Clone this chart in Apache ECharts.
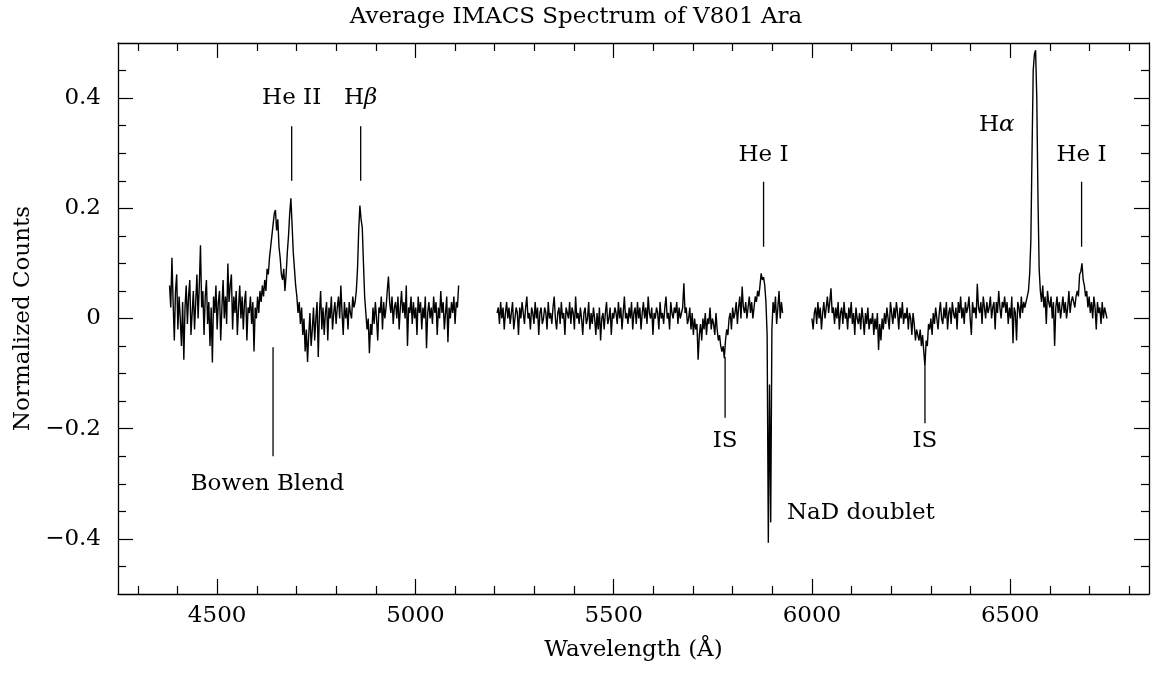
<!DOCTYPE html>
<html><head><meta charset="utf-8">
<script src="https://cdn.jsdelivr.net/npm/echarts@6/dist/echarts.min.js"></script>
<style>html,body{margin:0;padding:0;background:#fff}#c{width:1152px;height:678px}</style>
</head><body><div id="c"></div>
<script>
// Spectrum segments: start wavelength (Å), sampling step (Å), normalized counts
const seg1Start = 4380, seg1Step = 3;
const seg1Values = [
.06,.02,.11,.03,-.04,.05,.08,-.02,.04,.00,
-.05,.03,-.075,.02,.06,-.01,.04,.07,-.03,.01,
.05,-.02,.03,.08,.00,.06,.133,.02,.05,-.03,
.04,.07,-.01,.03,-.05,.02,-.08,.04,.01,.06,
-.02,.03,.05,-.04,.02,.07,.00,.04,-.01,.10,
.03,.06,.08,-.02,.04,.01,.05,-.03,.02,.06,
.00,.04,-.02,.03,.05,-.04,.02,.01,.04,-.01,
.03,-.06,.02,.00,.04,.01,.05,.03,.06,.04,
.07,.05,.09,.08,.11,.13,.15,.17,.19,.197,
.16,.18,.13,.11,.08,.07,.09,.05,.08,.12,
.15,.19,.218,.17,.12,.09,.06,.04,.01,.03,
-.01,.02,-.03,.00,-.06,-.02,-.079,-.03,.01,-.05,
-.02,.02,-.04,.00,.03,-.07,.01,.05,-.02,.02,
-.03,.01,.03,-.04,.02,.00,.04,-.02,.01,.03,
-.01,.02,.04,.00,.06,.01,-.03,.03,.00,.02,
-.02,.03,.01,.00,.04,.02,.03,.05,.09,.16,
.205,.18,.165,.10,.04,.01,-.02,.00,-.063,-.01,
-.03,.02,-.01,.03,.00,-.04,.02,.01,.04,-.02,
.03,.00,.02,.05,.076,.03,.01,.04,-.01,.02,
.03,.00,.04,-.02,.02,.05,.01,.03,.00,.06,
-.05,.02,.01,.04,-.01,.03,.00,.02,-.03,.04,
.01,.03,-.02,.02,.00,.04,-.054,.01,.03,.00,
.02,-.01,.04,.01,.03,-.03,.02,.00,.05,.01,
.03,-.02,.01,.04,-.043,.02,.00,.03,.01,.04,
-.01,.03,.02,.06
];
const seg2Start = 5206, seg2Step = 3;
const seg2Values = [
.01,.02,-.01,.03,.00,.02,-.02,.01,.03,.00,
.02,-.01,.01,.03,-.02,.00,.02,.01,-.03,.02,
.00,.03,.01,-.01,.02,.04,.00,.01,-.02,.02,
.01,-.01,.03,.00,.02,-.03,.01,.02,-.01,.00,
.02,.01,-.02,.03,.00,.01,-.01,.02,.04,.00,
-.02,.01,.02,-.01,.03,.00,.01,-.03,.02,.01,
.00,.03,-.01,.02,.01,-.02,.04,.00,.01,-.01,
.02,.00,-.03,.01,.02,-.01,.00,.03,-.02,.01,
-.01,.02,.00,-.03,.01,-.02,.02,-.04,.00,.01,
-.02,.01,.03,-.01,.00,.02,-.03,.01,.00,.02,
.01,-.01,.03,.00,.02,-.02,.01,.04,.00,.01,
-.01,.02,.00,.03,-.02,.01,.02,-.01,.03,.00,
.02,-.02,.01,.03,.00,.02,-.01,.04,.01,.00,
.02,-.03,.01,.00,.02,.01,-.02,.03,.00,.01,
-.01,.02,.04,.00,.01,-.02,.03,.01,.00,.02,
.01,.03,-.01,.02,.00,.01,.02,.064,.01,.02,
-.01,.00,.02,-.02,.01,-.03,.00,-.02,-.01,-.075,
-.03,-.01,-.04,.00,-.02,.01,-.03,.00,-.01,.02,
-.02,.00,-.01,-.03,.01,-.02,-.04,-.03,-.05,-.06,
-.05,-.072,-.04,-.02,-.03,.00,.01,-.02,.02,.00,
.01,.03,-.01,.02,.04,.00,.058,.02,.01,.03,
.00,.02,.04,.01,.03,.00,.02,.04,.03,.05,
.04,.06,.082,.07,.075,.06,.03,-.03,-.407,-.12,
-.37,-.02,.03,.01,.04,-.01,.02,.05,.00,.03,.01
];
const seg3Start = 6000, seg3Step = 3;
const seg3Values = [
.00,-.02,.01,.02,-.01,.03,.00,.02,-.02,.01,
.03,.00,.02,.04,.01,.03,.055,.01,.02,-.01,
.02,.00,.03,-.02,.01,.02,-.01,.03,.00,.01,
-.02,.02,.00,.03,-.01,.01,-.03,.02,.00,-.01,
.01,-.02,.02,.00,-.03,.01,-.01,.02,-.02,.00,
-.01,.01,-.03,.00,-.02,.01,-.057,-.01,-.04,.00,
-.02,.01,-.01,.02,.00,-.02,.03,.01,-.01,.02,
.00,.03,.01,-.02,.02,.00,.03,-.01,.01,.00,
.02,-.02,.01,.00,-.03,.01,-.01,-.04,-.02,-.03,
-.04,-.02,-.05,-.03,-.06,-.087,-.04,-.05,-.01,-.02,
.00,-.03,.01,-.01,.02,.00,-.02,.01,.03,.00,
-.01,.02,.00,.03,-.02,.01,.02,-.01,.03,.01,
.00,.02,-.02,.03,.01,.04,.00,.02,-.01,.03,
.01,.02,.04,.00,-.03,.03,.01,.02,.00,.063,
.02,.01,.03,-.01,.04,.02,.00,.03,.01,.02,
.04,.00,.02,.03,-.02,.03,.01,.05,.02,.00,
.03,.02,.04,.01,.03,-.01,.02,.00,.04,-.045,
.02,.01,-.04,.03,.02,.00,.04,.01,.03,.02,
.03,.04,.05,.08,.14,.30,.45,.48,.487,.40,
.22,.09,.05,.03,.06,.02,.04,-.01,.05,.03,
.02,.04,.00,.03,-.05,.02,.04,.01,.03,.00,
.02,.04,.01,.03,.00,.02,.05,.01,.03,.04,
.03,.02,.04,.05,.04,.08,.085,.10,.07,.06,
.04,.05,.02,.04,.01,.03,.00,.04,.02,-.02,
.03,.01,.02,-.01,.03,.00,.02,.01,.00
];
// Axis ticks
const xMajorTicks = [4500, 5000, 5500, 6000, 6500];
const xMinorTicks = [4300,4400,4600,4700,4800,4900,5100,5200,5300,5400,5600,5700,5800,5900,6100,6200,6300,6400,6600,6700,6800];
const yMajorTicks = [-0.4, -0.2, 0, 0.2, 0.4];
const yMinorTicks = [-0.45,-0.35,-0.3,-0.25,-0.15,-0.1,-0.05,0.05,0.1,0.15,0.25,0.3,0.35,0.45];
// Line identification markers: wavelength, from, to (data units)
const markWaves = [4641, 4688, 4862, 5878, 5781, 6285, 6680];
const markFrom  = [-0.052, 0.25, 0.25, 0.13, -0.07, -0.087, 0.13];
const markTo    = [-0.25, 0.349, 0.349, 0.248, -0.18, -0.19, 0.248];
// Labels: text, wavelength, value
const labelTexts = ['Bowen Blend', 'He II', 'H{g|β}', 'He I', 'IS', 'IS', 'H{g|α}', 'He I'];
const labelWaves = [4627, 4688, 4862, 5878, 5781, 6285, 6466, 6680];
const labelVals  = [-0.30, 0.40, 0.40, 0.296, -0.223, -0.223, 0.351, 0.296];
const nadText = 'NaD doublet', nadWave = 5937, nadVal = -0.353;

const FONT = 'DejaVu Serif';
const FS = 23;
const build = (s, st, vals) => vals.map((v, i) => [s + st * i, v]);
const chart = echarts.init(document.getElementById('c'), null, {renderer: 'canvas'});
const gridRect = {left: 118, right: 3, top: 43, bottom: 84};
const fmtY = v => v === 0 ? '0' : (v < 0 ? '\u2212' + (+(-v).toFixed(1)) : String(+v.toFixed(1)));
const fmtX = v => String(Math.round(v));
const tickStyle = {color: '#000', width: 1.2};
function xAx(grid, pos, ticks, len, labels) {
  return {type: 'value', gridIndex: grid, position: pos, min: 4250, max: 6850,
    axisLine: {show: grid === 0, onZero: false, lineStyle: {color: '#000', width: 1.3}},
    splitLine: {show: false},
    axisTick: {show: true, inside: true, length: len, customValues: ticks, lineStyle: tickStyle},
    axisLabel: labels ? {show: true, customValues: ticks, color: '#000', fontFamily: FONT, fontSize: FS, margin: 11, formatter: fmtX} : {show: false},
    name: labels ? 'Wavelength (Å)' : '', nameLocation: 'middle', nameGap: 45,
    nameTextStyle: {color: '#000', fontFamily: FONT, fontSize: FS}};
}
function yAx(grid, pos, ticks, len, labels) {
  return {type: 'value', gridIndex: grid, position: pos, min: -0.5, max: 0.5,
    axisLine: {show: grid === 0, onZero: false, lineStyle: {color: '#000', width: 1.3}},
    splitLine: {show: false},
    axisTick: {show: true, inside: true, length: len, customValues: ticks, lineStyle: tickStyle},
    axisLabel: labels ? {show: true, customValues: ticks, color: '#000', fontFamily: FONT, fontSize: FS, margin: 17, formatter: fmtY} : {show: false},
    name: labels ? 'Normalized Counts' : '', nameLocation: 'middle', nameGap: 82, nameRotate: 90,
    nameTextStyle: {color: '#000', fontFamily: FONT, fontSize: FS}};
}
const specStyle = {type: 'line', xAxisIndex: 0, yAxisIndex: 0, showSymbol: false, symbol: 'none',
  lineStyle: {color: '#000', width: 1.4}, animation: false, silent: true};
const series = [
  Object.assign({data: build(seg1Start, seg1Step, seg1Values)}, specStyle),
  Object.assign({data: build(seg2Start, seg2Step, seg2Values)}, specStyle),
  Object.assign({data: build(seg3Start, seg3Step, seg3Values)}, specStyle)
];
markWaves.forEach((w, i) => series.push(Object.assign({}, specStyle, {
  data: [[w, markFrom[i]], [w, markTo[i]]], lineStyle: {color: '#000', width: 1.3}})));
const lblStyle = {color: '#000', opacity: 1, fontFamily: FONT, fontSize: FS, textBorderWidth: 0};
series.push({type: 'scatter', xAxisIndex: 0, yAxisIndex: 0, symbolSize: 0, animation: false, silent: true,
  itemStyle: {opacity: 1},
  data: labelTexts.map((t, i) => ({value: [labelWaves[i], labelVals[i]], label: {formatter: t}})),
  label: Object.assign({show: true, position: 'inside',
    rich: {g: {fontStyle: 'italic', fontFamily: FONT, fontSize: FS, color: '#000'}}}, lblStyle)});
series.push({type: 'scatter', xAxisIndex: 0, yAxisIndex: 0, symbolSize: 0, animation: false, silent: true,
  itemStyle: {opacity: 1},
  data: [{value: [nadWave, nadVal], label: {formatter: nadText}}],
  label: Object.assign({show: true, position: 'right', distance: 0}, lblStyle)});
chart.setOption({
  backgroundColor: '#fff',
  animation: false,
  title: {text: 'Average IMACS Spectrum of V801 Ara', left: 'center', top: 1,
    textStyle: {color: '#000', fontFamily: FONT, fontSize: FS, fontWeight: 'normal'}},
  grid: [Object.assign({show: false}, gridRect), Object.assign({show: false}, gridRect)],
  xAxis: [xAx(0, 'bottom', xMajorTicks, 15, true), xAx(0, 'top', xMajorTicks, 15, false),
          xAx(1, 'bottom', xMinorTicks, 8, false), xAx(1, 'top', xMinorTicks, 8, false)],
  yAxis: [yAx(0, 'left', yMajorTicks, 15, true), yAx(0, 'right', yMajorTicks, 15, false),
          yAx(1, 'left', yMinorTicks, 8, false), yAx(1, 'right', yMinorTicks, 8, false)],
  series: series
});
</script></body></html>
